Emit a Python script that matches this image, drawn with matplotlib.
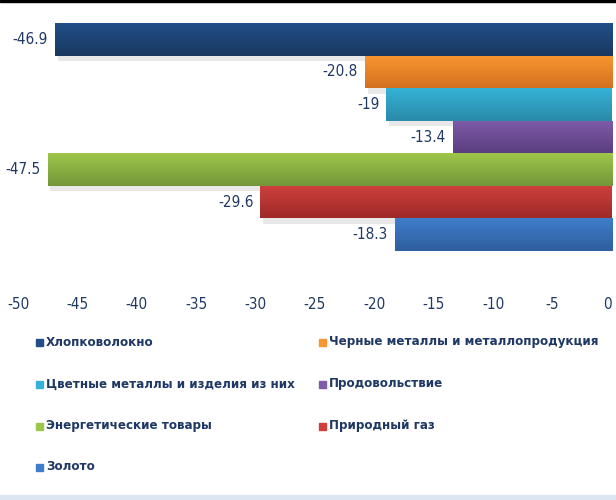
import numpy as np
import matplotlib
matplotlib.use("Agg")
import matplotlib.pyplot as plt
from matplotlib.colors import LinearSegmentedColormap
from matplotlib.patches import Rectangle
import matplotlib.patheffects as pe

plt.rcParams['font.family'] = ['DejaVu Sans']
plt.rcParams['font.stretch'] = 'condensed'

categories = ["Хлопковолокно", "Черные металлы и металлопродукция",
              "Цветные металлы и изделия из них", "Продовольствие",
              "Энергетические товары", "Природный газ", "Золото"]
values = [-46.9, -20.8, -19, -13.4, -47.5, -29.6, -18.3]
labels = ["-46.9", "-20.8", "-19", "-13.4", "-47.5", "-29.6", "-18.3"]
top_colors = ["#214f88", "#f99630", "#35b2d6", "#7f5ba8", "#9dc64a", "#cf403d", "#3f7ecb"]
bot_colors = ["#1a3860", "#d3701f", "#2a8aa9", "#5b3e80", "#74963a", "#9e2a29", "#2e5e9e"]
xticks = [-50, -45, -40, -35, -30, -25, -20, -15, -10, -5, 0]

txt_col = "#1f3864"
W, H = 616, 500

fig = plt.figure(figsize=(6.16, 5.0), dpi=100)
ax = fig.add_axes([18/W, 249/H, 594/W, 228/H])

grad = np.linspace(0, 1, 64).reshape(-1, 1)
bars = ax.barh(range(len(values)), values, height=1.0, color=top_colors,
               edgecolor="none")
for i, b in enumerate(bars):
    b.set_path_effects([pe.SimplePatchShadow(offset=(2, -4), shadow_rgbFace="#909090", alpha=0.2), pe.Normal()])
    cmap = LinearSegmentedColormap.from_list("g%d" % i, [top_colors[i], bot_colors[i]])
    im = ax.imshow(grad, cmap=cmap, aspect="auto", zorder=3,
                   extent=[values[i], 0, i + 0.5, i - 0.5])
    im.set_clip_path(b)
    ax.annotate(labels[i], (values[i], i), xytext=(-5, 0), textcoords="offset points",
                ha="right", va="center", fontsize=11, color=txt_col)

ax.set_xlim(-50, 0)
ax.set_ylim(6.5, -0.5)
ax.set_xticks(xticks)
ax.set_xticklabels([str(t) for t in xticks], fontsize=11, color=txt_col)
ax.get_xticklabels()[-1].set_ha("right")
ax.tick_params(axis="x", length=0, pad=33)
ax.set_yticks([])
for s in ax.spines.values():
    s.set_visible(False)

# legend drawn by hand, row-major like the original
col_x = [36, 319]
row_y = [342, 384, 426, 467]
leg_size = 11
renderer = fig.canvas.get_renderer()
probe = fig.text(0, 0, categories[2], fontsize=leg_size, weight="bold")
w = probe.get_window_extent(renderer).width
probe.remove()
leg_size = leg_size * 248 / w

for k, name in enumerate(categories):
    x = col_x[k % 2]
    y = row_y[k // 2]
    fig.add_artist(Rectangle(((x) / W, 1 - (y + 4) / H), 7 / W, 7 / H,
                             transform=fig.transFigure, color=top_colors[k]))
    fig.text((x + 10) / W, 1 - y / H, name, fontsize=leg_size, weight="bold",
             color=txt_col, va="center", ha="left")

# frame pieces
fig.add_artist(Rectangle((0, 1 - 2/H), 1, 2/H, transform=fig.transFigure, color="black"))
fig.add_artist(Rectangle((0, 0), 1, 5/H, transform=fig.transFigure, color="#dce6f2"))

fig.savefig("out.png", dpi=100)
